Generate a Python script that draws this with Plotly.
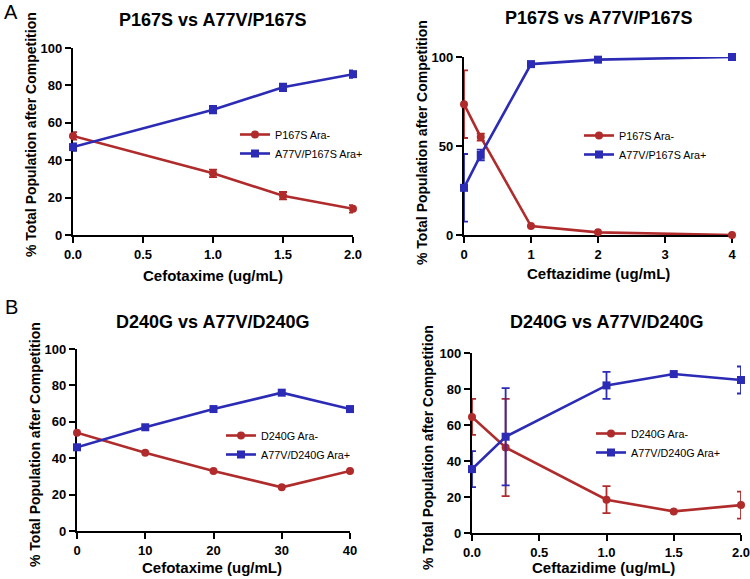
import plotly.graph_objects as go

RED = "#B02B2B"
BLUE = "#2B2BB5"
FONT = "Liberation Sans"

# Panel A left: Cefotaxime
a1_x = [0, 1, 1.5, 2]
a1_red = [53, 33, 21, 14]
a1_red_err = [2, 2, 2, 2]
a1_blue = [47, 67, 79, 86]
a1_blue_err = [2, 2, 2, 2]

# Panel A right: Ceftazidime
a2_x = [0, 0.25, 1, 2, 4]
a2_red = [73.5, 55, 5, 1.5, 0]
a2_red_err = [19, 2, 0, 0, 0]
a2_blue = [26.5, 45, 96, 98.5, 100]
a2_blue_err = [19, 3, 0, 0, 0]

# Panel B left: Cefotaxime
b1_x = [0, 10, 20, 30, 40]
b1_red = [54, 43, 33, 24, 33]
b1_blue = [46, 57, 67, 76, 67]

# Panel B right: Ceftazidime
b2_x = [0, 0.25, 1, 1.5, 2]
b2_red = [64.5, 47.5, 18.5, 12, 15.5]
b2_red_err = [10, 27, 7.5, 0, 7.5]
b2_blue = [35.5, 53.5, 82, 88.3, 85]
b2_blue_err = [10, 27, 7.5, 0, 7.5]

fig = go.Figure()

W, H = 750, 579
def px(x): return x / W
def py(y): return 1 - y / H

panels = [
    dict(ax="", x=a1_x, red=a1_red, rerr=a1_red_err, blue=a1_blue, berr=a1_blue_err,
         names=("P167S Ara-", "A77V/P167S Ara+"), legend="legend",
         xd=[px(73), px(353)], yd=[py(235), py(48)], xr=[0, 2],
         xt=[0, 0.5, 1, 1.5, 2], xtt=["0.0", "0.5", "1.0", "1.5", "2.0"],
         yt=[0, 20, 40, 60, 80, 100],
         title="P167S vs A77V/P167S", tpos=(213, 20),
         xtitle="Cefotaxime (ug/mL)", xtpos=(213, 275), ytpos=(31, 135),
         legpos=(235, 120)),
    dict(ax="2", x=a2_x, red=a2_red, rerr=a2_red_err, blue=a2_blue, berr=a2_blue_err,
         names=("P167S Ara-", "A77V/P167S Ara+"), legend="legend2",
         xd=[px(464), px(732)], yd=[py(235), py(57)], xr=[0, 4],
         xt=[0, 1, 2, 3, 4], xtt=["0", "1", "2", "3", "4"],
         yt=[0, 50, 100],
         title="P167S vs A77V/P167S", tpos=(598, 18),
         xtitle="Ceftazidime (ug/mL)", xtpos=(598, 273), ytpos=(422, 143),
         legpos=(579, 121)),
    dict(ax="3", x=b1_x, red=b1_red, rerr=None, blue=b1_blue, berr=None,
         names=("D240G Ara-", "A77V/D240G Ara+"), legend="legend3",
         xd=[px(77), px(350)], yd=[py(531), py(349)], xr=[0, 40],
         xt=[0, 10, 20, 30, 40], xtt=["0", "10", "20", "30", "40"],
         yt=[0, 20, 40, 60, 80, 100],
         title="D240G vs A77V/D240G", tpos=(213, 322),
         xtitle="Cefotaxime (ug/mL)", xtpos=(212, 567), ytpos=(35, 445),
         legpos=(221, 421)),
    dict(ax="4", x=b2_x, red=b2_red, rerr=b2_red_err, blue=b2_blue, berr=b2_blue_err,
         names=("D240G Ara-", "A77V/D240G Ara+"), legend="legend4",
         xd=[px(472), px(741)], yd=[py(533), py(353)], xr=[0, 2],
         xt=[0, 0.5, 1, 1.5, 2], xtt=["0.0", "0.5", "1.0", "1.5", "2.0"],
         yt=[0, 20, 40, 60, 80, 100],
         title="D240G vs A77V/D240G", tpos=(606, 322),
         xtitle="Ceftazidime (ug/mL)", xtpos=(603, 567), ytpos=(428, 448),
         legpos=(591, 419)),
]

annotations = []
layout_upd = {}
def ann(text, x, y, size, angle=0, bold=True):
    return dict(text=("<b>%s</b>" % text) if bold else text, x=px(x), y=py(y),
                xref="paper", yref="paper", showarrow=False, textangle=angle,
                xanchor="center", yanchor="middle",
                font=dict(family=FONT, size=size, color="black"))

for p in panels:
    xa = "x" + p["ax"]
    ya = "y" + p["ax"]
    for vals, err, col, sym, name in [
        (p["red"], p["rerr"], RED, "circle", p["names"][0]),
        (p["blue"], p["berr"], BLUE, "square", p["names"][1]),
    ]:
        ey = dict(type="data", array=err, visible=True, color=col, thickness=1.8, width=4) if err else None
        fig.add_trace(go.Scatter(
            x=p["x"], y=vals, mode="lines+markers", name=name,
            line=dict(color=col, width=2.6),
            marker=dict(color=col, symbol=sym, size=8),
            error_y=ey, xaxis=xa, yaxis=ya, legend=p["legend"], cliponaxis=False,
        ))
    axcommon = dict(showline=True, linecolor="black", linewidth=2.2, ticks="outside",
                    ticklen=6, tickwidth=2, tickcolor="black", showgrid=False, zeroline=False,
                    tickfont=dict(family=FONT, size=13, color="black", weight="bold"),
                    layer="below traces", fixedrange=True, automargin=False,
                    ticklabeloverflow="allow")
    layout_upd["xaxis" + p["ax"]] = dict(axcommon, domain=p["xd"], range=p["xr"],
                                          tickvals=p["xt"], ticktext=p["xtt"], anchor=ya)
    layout_upd["yaxis" + p["ax"]] = dict(axcommon, domain=p["yd"], range=[0, 100],
                                          tickvals=p["yt"], anchor=xa)
    layout_upd[p["legend"]] = dict(x=px(p["legpos"][0]), y=py(p["legpos"][1]),
                                   xanchor="left", yanchor="top", bgcolor="rgba(0,0,0,0)",
                                   font=dict(family=FONT, size=10.8, color="black"),
                                   itemwidth=30, tracegroupgap=0)
    annotations.append(ann(p["title"], p["tpos"][0], p["tpos"][1], 18))
    annotations.append(ann(p["xtitle"], p["xtpos"][0], p["xtpos"][1], 15))
    annotations.append(ann("% Total Population after Competition", p["ytpos"][0], p["ytpos"][1], 14, angle=-90))

annotations.append(ann("A", 11, 12, 20, bold=False))
annotations.append(ann("B", 11, 307, 20, bold=False))

fig.update_layout(
    width=W, height=H, margin=dict(l=0, r=0, t=0, b=0, autoexpand=False),
    paper_bgcolor="white", plot_bgcolor="white",
    showlegend=True, annotations=annotations, **layout_upd,
)

fig.write_html("out.html", config={"displayModeBar": False},
               post_script="document.body.style.margin='0';")
